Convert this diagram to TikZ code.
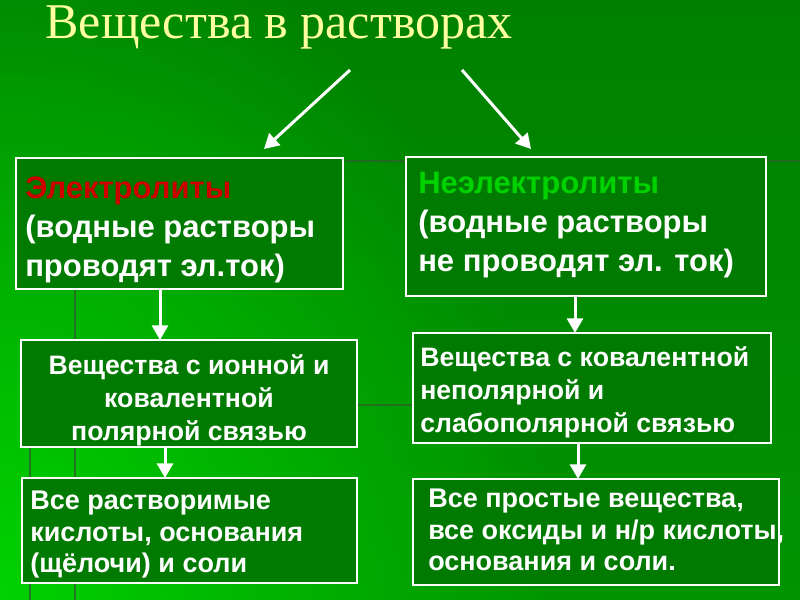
\documentclass[tikz,border=0pt]{standalone}
\usepackage{fontspec}
\setmainfont{Liberation Serif}
\setsansfont{Liberation Sans}
\usetikzlibrary{arrows.meta,fadings}
\definecolor{bgtop}{RGB}{0,128,0}
\definecolor{bgbot}{RGB}{0,148,0}
\definecolor{bglight}{RGB}{0,210,0}
\definecolor{boxfill}{RGB}{0,122,0}
\definecolor{titlecol}{RGB}{255,255,160}
\definecolor{redtxt}{RGB}{204,0,0}
\definecolor{greentxt}{RGB}{0,210,0}
\definecolor{gridline}{RGB}{40,100,40}
\tikzfading[name=cornerfade, inner color=transparent!0, outer color=transparent!100]
\begin{document}
\begin{tikzpicture}[x=0.75pt,y=-0.75pt,
  box/.style={draw=white, line width=2pt, fill=boxfill, rectangle, inner sep=0pt, outer sep=0pt},
  bigtxt/.style={font=\sffamily\bfseries\fontsize{23.25}{29.25}\selectfont, text=white, align=left, inner sep=0pt, anchor=north west},
  midtxt/.style={font=\sffamily\bfseries\fontsize{20}{24.75}\selectfont, text=white, inner sep=0pt},
  smalltxt/.style={font=\sffamily\bfseries\fontsize{20.25}{23.6}\selectfont, text=white, align=left, inner sep=0pt, anchor=north west},
  arr/.style={draw=white, line width=2.25pt, -{Triangle[width=12pt, length=11pt, fill=white]}},
  grid/.style={draw=gridline, line width=2pt, opacity=0.8}
]
\useasboundingbox (0,0) rectangle (800,600);
\begin{scope}
  \clip (0,0) rectangle (800,600);
  \shade[top color=bgtop, bottom color=bgbot] (0,0) rectangle (800,600);
  \fill[bglight, path fading=cornerfade] (-560,-100) rectangle (560,1300);
\end{scope}
% background template lines
\draw[grid] (345,161) -- (800,161);
\draw[grid] (75,289) -- (75,600);
\draw[grid] (30,447) -- (30,600);
\draw[grid] (357,405) -- (413,405);
% title
\node[font=\fontsize{37.5}{42}\selectfont, text=titlecol, anchor=base, inner sep=0pt] (title) at (279,38) {Вещества в растворах};
% boxes
\node[box, minimum width=245.25pt, minimum height=98.25pt] (b1) at (179.5,223.5) {};
\node[box, minimum width=270pt, minimum height=104.25pt] (b2) at (586,226.5) {};
\node[box, minimum width=252pt, minimum height=80.25pt] (b3) at (189,393.5) {};
\node[box, minimum width=268.5pt, minimum height=82.5pt] (b4) at (592,388) {};
\node[box, minimum width=251.25pt, minimum height=78.75pt] (b5) at (189.5,530.5) {};
\node[box, minimum width=274.5pt, minimum height=79.5pt] (b6) at (596,532) {};
% texts
\node[bigtxt] (t1) at (25,177) {{\color{redtxt}Электролиты}\\(водные растворы\\проводят эл.ток)};
\node[bigtxt] (t2) at (418,172) {{\color{greentxt}Неэлектролиты}\\(водные растворы\\не проводят эл. ток)};
\node[midtxt, align=center, anchor=north] (t3) at (189,354) {Вещества с ионной и\\ковалентной\\полярной связью};
\node[midtxt, align=left, anchor=north west] (t4) at (420,346) {Вещества с ковалентной\\неполярной и\\слабополярной связью};
\node[smalltxt] (t5) at (30,491) {Все растворимые\\кислоты, основания\\(щёлочи) и соли};
\node[smalltxt] (t6) at (428,489) {Все простые вещества,\\все оксиды и н/р кислоты,\\основания и соли.};
% connectors
\coordinate (s1) at (350,70);
\coordinate (e1) at (264,149);
\coordinate (s2) at (462,70);
\coordinate (e2) at (531,149);
\draw[arr] (s1) -- (e1);
\draw[arr] (s2) -- (e2);
\coordinate (x1) at (160,0);
\coordinate (x2) at (575,0);
\coordinate (x3) at (165,0);
\coordinate (x4) at (578,0);
\draw[arr] (b1.south -| x1) -- (b3.north -| x1);
\draw[arr] (b2.south -| x2) -- (b4.north -| x2);
\draw[arr] (b3.south -| x3) -- (b5.north -| x3);
\draw[arr] (b4.south -| x4) -- (b6.north -| x4);
\end{tikzpicture}
\end{document}
